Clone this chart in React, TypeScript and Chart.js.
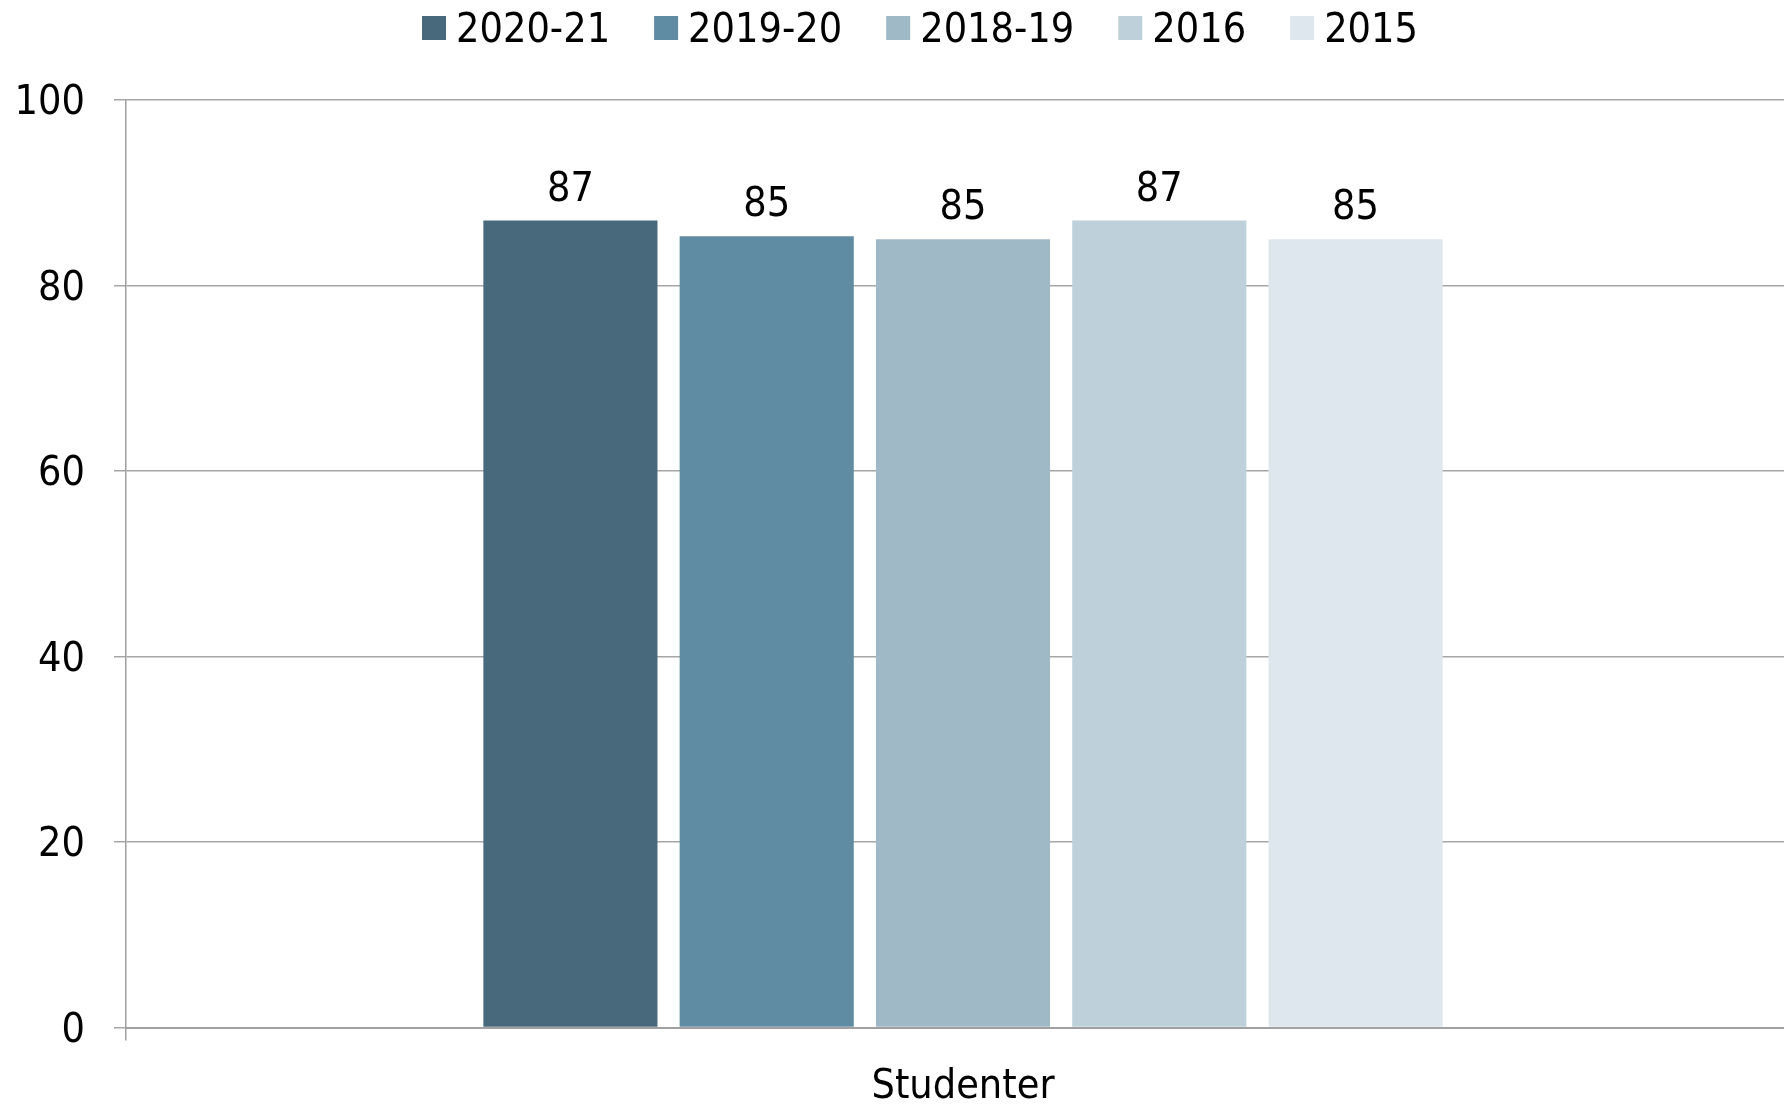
import React, { useEffect, useRef } from "react";
import { Chart, registerables } from "chart.js";

Chart.register(...registerables);

// ---- Data ----
const categories = ["Studenter"];
const seriesLabels = ["2020-21", "2019-20", "2018-19", "2016", "2015"];
const values2020_21 = [87];
const values2019_20 = [85.3];
const values2018_19 = [85];
const values2016 = [87];
const values2015 = [85];
const seriesColors = ["#48697C", "#5F8CA3", "#A0B9C7", "#BED1DA", "#DFE7EE"];
const yMin = 0;
const yMax = 100;
const yStep = 20;

const FONT = '"DejaVu Sans Condensed", "DejaVu Sans", sans-serif';
const FONT_SIZE = 41;
const LEGEND_CENTER_X = 920;
const LEGEND_CENTER_Y = 28;

const legendPlugin = {
  id: "customLegend",
  afterDraw(chart: any) {
    const ctx = chart.ctx;
    ctx.save();
    ctx.font = `${FONT_SIZE}px ${FONT}`;
    const items = chart.data.datasets.map((ds: any) => ({
      text: ds.label,
      color: ds.backgroundColor,
      w: ctx.measureText(ds.label).width,
    }));
    const box = 24, gap = 10, spacing = 44;
    const total =
      items.reduce((s: number, it: any) => s + box + gap + it.w, 0) +
      spacing * (items.length - 1);
    let x = LEGEND_CENTER_X - total / 2;
    ctx.textBaseline = "middle";
    ctx.textAlign = "left";
    items.forEach((it: any) => {
      ctx.fillStyle = it.color;
      ctx.fillRect(x, LEGEND_CENTER_Y - box / 2, box, box);
      ctx.fillStyle = "#000";
      ctx.fillText(it.text, x + box + gap, LEGEND_CENTER_Y + 3);
      x += box + gap + it.w + spacing;
    });
    ctx.restore();
  },
};

const valueLabelPlugin = {
  id: "valueLabels",
  afterDatasetsDraw(chart: any) {
    const ctx = chart.ctx;
    ctx.save();
    ctx.font = `${FONT_SIZE}px ${FONT}`;
    ctx.fillStyle = "#000";
    ctx.textAlign = "center";
    ctx.textBaseline = "alphabetic";
    chart.data.datasets.forEach((ds: any, i: number) => {
      const meta = chart.getDatasetMeta(i);
      meta.data.forEach((bar: any, j: number) => {
        const v = ds.data[j];
        ctx.fillText(String(Math.round(v)), bar.x, bar.y - 20);
      });
    });
    ctx.restore();
  },
};

export default function App() {
  const canvasRef = useRef<HTMLCanvasElement | null>(null);

  useEffect(() => {
    document.body.style.overflow = "hidden";
    const seriesData = [values2020_21, values2019_20, values2018_19, values2016, values2015];
    const chart = new Chart(canvasRef.current as HTMLCanvasElement, {
      type: "bar",
      data: {
        labels: categories,
        datasets: seriesLabels.map((label, i) => ({
          label,
          data: seriesData[i],
          backgroundColor: seriesColors[i],
          borderWidth: 0,
          categoryPercentage: 0.5863,
          barPercentage: 0.887,
        })),
      },
      options: {
        animation: false,
        responsive: true,
        maintainAspectRatio: false,
        layout: { padding: { top: 100, left: 0, right: 0, bottom: 0 } },
        plugins: {
          legend: { display: false },
          tooltip: { enabled: false },
        },
        scales: {
          x: {
            grid: {
              display: true,
              drawOnChartArea: false,
              drawTicks: true,
              tickLength: 13,
              offset: true,
              color: "#a0a0a0",
              lineWidth: 1.5,
            },
            border: { display: true, color: "#a0a0a0", width: 2 },
            ticks: {
              color: "#000",
              font: { family: FONT, size: FONT_SIZE },
              padding: 22,
            },
            afterFit(scale: any) {
              scale.height = 77.5;
            },
          },
          y: {
            min: yMin,
            max: yMax,
            ticks: {
              stepSize: yStep,
              color: "#000",
              font: { family: FONT, size: FONT_SIZE },
              padding: 29,
              labelOffset: 3.5,
            },
            grid: {
              color: "#a6a6a6",
              lineWidth: 1.5,
              tickLength: 12,
              drawTicks: true,
            },
            border: { display: true, color: "#a0a0a0", width: 1.5 },
            afterFit(scale: any) {
              scale.width = 126;
            },
          },
        },
      },
      plugins: [legendPlugin, valueLabelPlugin],
    });
    return () => chart.destroy();
  }, []);

  return (
    <div style={{ position: "absolute", left: 0, top: 0, width: 1800, height: 1105 }}>
      <canvas ref={canvasRef} />
    </div>
  );
}
